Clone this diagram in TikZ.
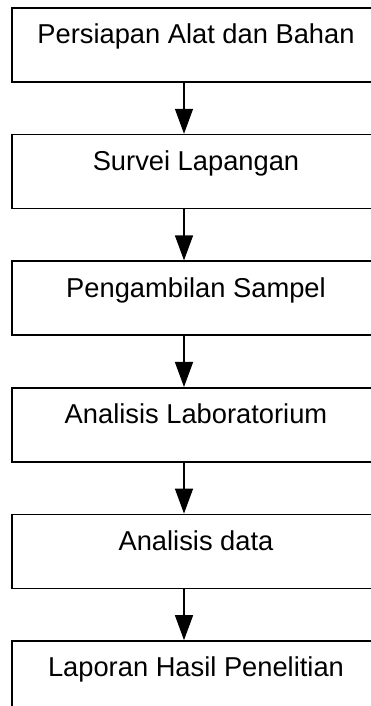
\documentclass[tikz,border=0pt]{standalone}
\usepackage{fontspec}
\setmainfont{Liberation Sans}
\usetikzlibrary{arrows.meta,positioning}

\begin{document}
\begin{tikzpicture}[
    block/.style={rectangle, draw, line width=1.6pt, minimum width=368pt, inner ysep=0pt,
      text height=36pt, text depth=38pt, text centered, font=\fontsize{27.3}{31}\selectfont},
    arrow/.style={line width=1.4pt, -{Triangle[width=18pt,length=25pt]}}
]
\useasboundingbox (0,0) rectangle (371pt,706pt);

% Define nodes in a matrix
\matrix (m) [row sep=51pt, inner sep=0pt, anchor=north] at (196pt,699pt) {
  \node (n1) [block] {Persiapan Alat dan Bahan}; \\
  \node (n2) [block] {Survei Lapangan}; \\
  \node (n3) [block] {Pengambilan Sampel}; \\
  \node (n4) [block] {Analisis Laboratorium}; \\
  \node (n5) [block] {Analisis data}; \\
  \node (n6) [block] {Laporan Hasil Penelitian}; \\
};

% Connect nodes
\coordinate (ax) at (184pt,0);
\draw [arrow] (n1.south -| ax) -- (n2.north -| ax);
\draw [arrow] (n2.south -| ax) -- (n3.north -| ax);
\draw [arrow] (n3.south -| ax) -- (n4.north -| ax);
\draw [arrow] (n4.south -| ax) -- (n5.north -| ax);
\draw [arrow] (n5.south -| ax) -- (n6.north -| ax);
\end{tikzpicture}
\end{document}
